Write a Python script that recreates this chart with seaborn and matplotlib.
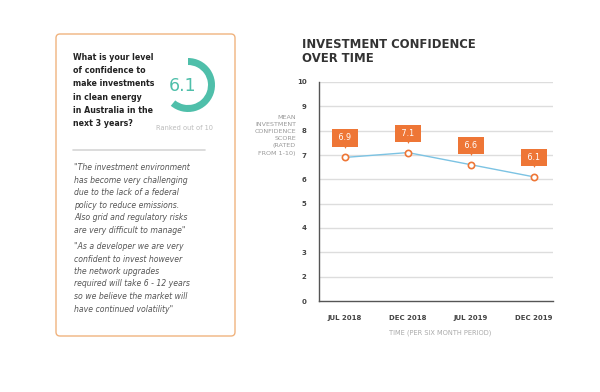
import numpy as np
import pandas as pd
import matplotlib
matplotlib.use("Agg")
import matplotlib.pyplot as plt
import seaborn as sns
from matplotlib.patches import FancyBboxPatch, Wedge
from matplotlib.transforms import offset_copy

# --- data ---
periods = ["JUL 2018", "DEC 2018", "JUL 2019", "DEC 2019"]
scores = [6.9, 7.1, 6.6, 6.1]
ytick_values = [1, 2, 3, 4, 5, 6, 7, 8, 9, 10]
ytick_labels = ["0", "2", "3", "4", "5", "6", "7", "8", "9", "10"]
overall_score = 6.1
score_max = 10

question = ("What is your level\nof confidence to\nmake investments\n"
            "in clean energy\nin Australia in the\nnext 3 years?")
quote_1 = ("\"The investment environment\nhas become very challenging\n"
           "due to the lack of a federal\npolicy to reduce emissions.\n"
           "Also grid and regulatory risks\nare very difficult to manage\"")
quote_2 = ("\"As a developer we are very\nconfident to invest however\n"
           "the network upgrades\nrequired will take 6 - 12 years\n"
           "so we believe the market will\nhave continued volatility\"")

ORANGE = "#EE7636"
TEAL = "#4FBFAA"
BLUE = "#7CC3E3"
DARK = "#333333"

sns.set_theme(style="white")
plt.rcParams["font.family"] = ["DejaVu Sans"]

fig = plt.figure(figsize=(6, 3.92), dpi=100)

# overlay axes in pixel coordinates for the side panel
bg = fig.add_axes([0, 0, 1, 1])
bg.set_xlim(0, 600)
bg.set_ylim(392, 0)
bg.axis("off")

bg.add_patch(FancyBboxPatch((56, 34), 179, 302, boxstyle="round,pad=0,rounding_size=4",
                            fc="white", ec="#F0B37E", lw=1.0))
bg.text(73, 53, question, fontsize=5.7, fontweight="bold", color="#222222",
        va="top", ha="left", linespacing=1.6)

# donut (y axis inverted, so angles run clockwise on screen)
cx, cy, r = 188, 85, 27
frac = overall_score / score_max
bg.add_patch(Wedge((cx, cy), r, -90, -90 + 360 * frac, width=7, fc=TEAL, ec="none"))
bg.text(183, 86, f"{overall_score}", fontsize=12.5, color=TEAL, ha="center", va="center")
bg.text(185, 128, "Ranked out of 10", fontsize=4.8, color="#BBBBBB", ha="center", va="center")

bg.plot([73, 205], [150, 150], color="#D5D5D5", lw=1.2)
bg.text(74, 163, quote_1, fontsize=5.6, style="italic", color="#555555",
        va="top", ha="left", linespacing=1.5)
bg.text(74, 242, quote_2, fontsize=5.6, style="italic", color="#555555",
        va="top", ha="left", linespacing=1.5)

# main chart
ax = fig.add_axes([319 / 600, 1 - 301 / 392, 234 / 600, 219 / 392])
df = pd.DataFrame({"pos": np.arange(len(periods)), "score": scores})
sns.lineplot(data=df, x="pos", y="score", ax=ax, sort=False, color=BLUE, lw=1.0,
             marker="o", markersize=4.5, markerfacecolor="white",
             markeredgecolor=ORANGE, markeredgewidth=1.2, zorder=5)

ax.set_xlim(-0.41, 3.3)
ax.set_ylim(1, 10)
ax.set_yticks(ytick_values)
ax.set_yticklabels(ytick_labels)
ax.set_xticks(df["pos"])
ax.set_xticklabels(periods)
for y in ytick_values[1:]:
    ax.axhline(y, color="#DDDDDD", lw=1.0, zorder=0)
for side in ["top", "right"]:
    ax.spines[side].set_visible(False)
for side in ["left", "bottom"]:
    ax.spines[side].set_color("#555555")
    ax.spines[side].set_linewidth(1.0)
ax.tick_params(axis="x", direction="out", length=4, width=1, color="#555555",
               labelsize=5.0, labelcolor="#444444", pad=6)
ax.tick_params(axis="y", direction="in", length=3, width=1, color="#555555",
               labelsize=5.0, labelcolor="#444444", pad=9)
for lab in ax.get_xticklabels() + ax.get_yticklabels():
    lab.set_fontweight("bold")
ax.set_xlabel("")
ax.set_ylabel("")
ax.set_facecolor("white")

# value callouts
box_trans = offset_copy(ax.transData, fig=fig, y=14, units="points")
tip_trans = offset_copy(ax.transData, fig=fig, y=8.3, units="points")
for x, v in zip(df["pos"], df["score"]):
    ax.text(x, v, f" {v} ", transform=box_trans, ha="center", va="center",
            fontsize=5.8, color="white", zorder=6,
            bbox=dict(boxstyle="square,pad=0.5", fc=ORANGE, ec="none"))
    ax.plot([x], [v], transform=tip_trans, marker="v", ms=3.5, color=ORANGE,
            mec="none", zorder=6)

fig.text(302 / 600, 1 - 51 / 392, "INVESTMENT CONFIDENCE\nOVER TIME", fontsize=8.4,
         fontweight="bold", color=DARK, ha="left", va="center", linespacing=1.1)
fig.text(296 / 600, 1 - 135 / 392,
         "MEAN\nINVESTMENT\nCONFIDENCE\nSCORE\n(RATED\nFROM 1-10)",
         fontsize=4.6, color="#999999", ha="right", va="center", linespacing=1.55)
fig.text(440 / 600, 1 - 333 / 392, "TIME (PER SIX MONTH PERIOD)", fontsize=4.8,
         color="#AAAAAA", ha="center", va="center")

fig.savefig("out.png", dpi=100, facecolor="white")
